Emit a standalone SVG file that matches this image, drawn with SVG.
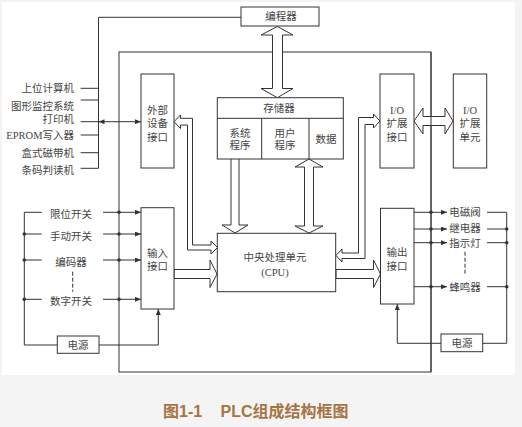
<svg xmlns="http://www.w3.org/2000/svg" width="522" height="427" viewBox="0 0 522 427">
<defs>
<style>
.ln{fill:none;stroke:#333;stroke-width:1}
.bx{fill:#fff;stroke:#333;stroke-width:1}
.pipe{fill:#fff;stroke:#333;stroke-width:1;stroke-linejoin:miter}
.dash{fill:none;stroke:#333;stroke-width:1;stroke-dasharray:4,2}
.t{font-family:"Liberation Serif","Noto Sans CJK SC",serif;font-size:10.5px;fill:#444;text-anchor:middle}
.tr{font-family:"Liberation Serif","Noto Sans CJK SC",serif;font-size:10.5px;fill:#444;text-anchor:end}
.cap{font-family:"Liberation Sans","Noto Sans CJK SC",sans-serif;font-size:16px;font-weight:bold;fill:#a57443}
</style>
<marker id="ah" viewBox="0 0 6 5" refX="6" refY="2.5" markerWidth="6" markerHeight="5" markerUnits="userSpaceOnUse" orient="auto-start-reverse">
<path d="M0,0 L6,2.5 L0,5 z" fill="#333"/>
</marker>
</defs>
<rect x="0" y="0" width="522" height="427" fill="#f4f4f4"/>
<rect x="2" y="2" width="513" height="373" fill="#fff"/>

<g id="connectors">
<!-- outer PLC frame -->
<rect x="119" y="52" width="312" height="320" class="ln"/>
<!-- programmer line to left bus -->
<polyline points="241,17.3 98.5,17.3 98.5,168.3" class="ln"/>
<line x1="80.7" y1="88.3" x2="98.5" y2="88.3" class="ln"/>
<line x1="80.7" y1="100" x2="98.5" y2="100" class="ln"/>
<line x1="80.7" y1="121.7" x2="98.5" y2="121.7" class="ln"/>
<line x1="98.5" y1="121.7" x2="141" y2="121.7" class="ln" marker-start="url(#ah)" marker-end="url(#ah)"/>
<line x1="80.7" y1="135" x2="98.5" y2="135" class="ln"/>
<line x1="80.7" y1="152.7" x2="98.5" y2="152.7" class="ln"/>
<line x1="80.7" y1="168.3" x2="98.5" y2="168.3" class="ln"/>

<!-- programmer <-> memory -->
<polygon points="277.3,26.5 293,35 282.5,35 282.5,88.5 293,88.5 277.3,97.7 261,88.5 272.5,88.5 272.5,35 261,35" class="pipe"/>
<!-- external device interface <-> CPU -->
<polygon points="174,121.7 180.5,115 180.5,118.3 192.5,118.3 192.5,245 211,245 211,241 217.5,247.5 211,254 211,250 187.5,250 187.5,125 180.5,125 180.5,128.5" class="pipe"/>
<!-- CPU <-> I/O extension interface -->
<polygon points="336,255.5 342,249 342,253 358.5,253 358.5,117.5 373.5,117.5 373.5,114 380,121 373.5,128 373.5,124.5 365,124.5 365,258.5 342,258.5 342,262" class="pipe"/>
<!-- I/O interface <-> I/O unit -->
<polygon points="414,121 423,108 423,116.5 445,116.5 445,108 453,121 445,134 445,125.5 423,125.5 423,134" class="pipe"/>
<line x1="431" y1="52" x2="431" y2="372" class="ln"/>
<!-- system program -> CPU -->
<polyline points="231,159 231,225 222,225 235,233 248,225 239,225 239,159" class="pipe"/>
<!-- data <-> CPU -->
<polygon points="309,159 323,167 313.5,167 313.5,226 323,226 309,233 295,226 304.5,226 304.5,167 295,167" class="pipe"/>
<!-- input -> CPU -->
<polygon points="174,269.5 210,269.5 210,260 217,274 210,287.5 210,278.5 174,278.5" class="pipe"/>
<!-- CPU -> output -->
<polygon points="336,269.5 373.5,269.5 373.5,260 380.5,274 373.5,287.5 373.5,278.5 336,278.5" class="pipe"/>

<!-- input side -->
<polyline points="41.7,212.3 24.3,212.3 24.3,345 57,345" class="ln"/>
<line x1="24.3" y1="234" x2="41.7" y2="234" class="ln"/>
<line x1="24.3" y1="260" x2="41.7" y2="260" class="ln"/>
<line x1="24.3" y1="299.3" x2="41.7" y2="299.3" class="ln"/>
<circle cx="24.3" cy="234" r="1.8" fill="#333"/>
<circle cx="24.3" cy="260" r="1.8" fill="#333"/>
<circle cx="24.3" cy="299.3" r="1.8" fill="#333"/>
<line x1="103" y1="212.3" x2="141" y2="212.3" class="ln" marker-end="url(#ah)"/>
<line x1="103" y1="234" x2="141" y2="234" class="ln" marker-end="url(#ah)"/>
<line x1="103" y1="260" x2="141" y2="260" class="ln" marker-end="url(#ah)"/>
<line x1="103" y1="299.3" x2="141" y2="299.3" class="ln" marker-end="url(#ah)"/>
<circle cx="119" cy="212.3" r="1.8" fill="#333"/>
<circle cx="119" cy="234" r="1.8" fill="#333"/>
<circle cx="119" cy="260" r="1.8" fill="#333"/>
<circle cx="119" cy="299.3" r="1.8" fill="#333"/>
<line x1="72.7" y1="271.7" x2="72.7" y2="291.7" class="dash"/>
<polyline points="99,345 158.3,345 158.3,309" class="ln" marker-end="url(#ah)"/>

<!-- output side -->
<line x1="414" y1="212.3" x2="447" y2="212.3" class="ln" marker-end="url(#ah)"/>
<line x1="414" y1="229" x2="447" y2="229" class="ln" marker-end="url(#ah)"/>
<line x1="414" y1="242.7" x2="447" y2="242.7" class="ln" marker-end="url(#ah)"/>
<line x1="414" y1="286.7" x2="447" y2="286.7" class="ln" marker-end="url(#ah)"/>
<circle cx="431" cy="212.3" r="1.8" fill="#333"/>
<circle cx="431" cy="229" r="1.8" fill="#333"/>
<circle cx="431" cy="242.7" r="1.8" fill="#333"/>
<circle cx="431" cy="286.7" r="1.8" fill="#333"/>
<line x1="465" y1="251.7" x2="465" y2="275" class="dash"/>
<polyline points="487,212.3 506.7,212.3 506.7,343.3 483,343.3" class="ln"/>
<line x1="487" y1="229" x2="506.7" y2="229" class="ln"/>
<line x1="487" y1="242.7" x2="506.7" y2="242.7" class="ln"/>
<line x1="487" y1="286.7" x2="506.7" y2="286.7" class="ln"/>
<circle cx="506.7" cy="229" r="1.8" fill="#333"/>
<circle cx="506.7" cy="242.7" r="1.8" fill="#333"/>
<circle cx="506.7" cy="286.7" r="1.8" fill="#333"/>
<polyline points="441,343.3 397.3,343.3 397.3,304" class="ln" marker-end="url(#ah)"/>
</g>

<g id="programmer">
<rect x="241" y="7" width="78" height="19" class="bx"/>
<text x="281" y="20" class="t">编程器</text>
</g>

<g id="ext-interface">
<rect x="141" y="74" width="33" height="94" class="bx"/>
<text x="157.5" y="114" class="t">外部</text>
<text x="157.5" y="127.3" class="t">设备</text>
<text x="157.5" y="140.7" class="t">接口</text>
</g>

<g id="memory">
<rect x="217.3" y="97.7" width="126" height="61.3" class="bx"/>
<line x1="217.3" y1="118.3" x2="343.3" y2="118.3" class="ln"/>
<line x1="261.7" y1="118.3" x2="261.7" y2="159" class="ln"/>
<line x1="309" y1="118.3" x2="309" y2="159" class="ln"/>
<text x="279" y="112" class="t">存储器</text>
<text x="240" y="137" class="t">系统</text>
<text x="240" y="149" class="t">程序</text>
<text x="285" y="137" class="t">用户</text>
<text x="285" y="149" class="t">程序</text>
<text x="326" y="143" class="t">数据</text>
</g>

<g id="io-ext-interface">
<rect x="380" y="74" width="34" height="94" class="bx"/>
<text x="397" y="114" class="t">I/O</text>
<text x="397" y="127.3" class="t">扩展</text>
<text x="397" y="140.7" class="t">接口</text>
</g>

<g id="io-ext-unit">
<rect x="453.3" y="74" width="33.4" height="94" class="bx"/>
<text x="470" y="114" class="t">I/O</text>
<text x="470" y="127.3" class="t">扩展</text>
<text x="470" y="140.7" class="t">单元</text>
</g>

<g id="cpu">
<rect x="217.3" y="233.3" width="118.4" height="58.4" class="bx"/>
<text x="275" y="260.5" class="t">中央处理单元</text>
<text x="275" y="275.5" class="t">(CPU)</text>
</g>

<g id="input-interface">
<rect x="141" y="207.7" width="33" height="101.3" class="bx"/>
<text x="157.5" y="256.5" class="t">输入</text>
<text x="157.5" y="270" class="t">接口</text>
</g>

<g id="output-interface">
<rect x="380.5" y="208.3" width="33.5" height="95.7" class="bx"/>
<text x="397" y="255.5" class="t">输出</text>
<text x="397" y="270" class="t">接口</text>
</g>

<g id="power-left">
<rect x="57.3" y="336" width="41.7" height="17.3" class="bx"/>
<text x="78" y="349" class="t">电源</text>
</g>

<g id="power-right">
<rect x="441" y="334" width="41.7" height="17.7" class="bx"/>
<text x="462" y="347" class="t">电源</text>
</g>

<g id="external-devices">
<text x="74" y="92.3" class="tr">上位计算机</text>
<text x="74" y="110" class="tr">图形监控系统</text>
<text x="74" y="123.3" class="tr">打印机</text>
<text x="74" y="139.3" class="tr">EPROM写入器</text>
<text x="74" y="157.3" class="tr">盒式磁带机</text>
<text x="74" y="174" class="tr">条码判读机</text>
</g>

<g id="input-devices">
<text x="71" y="218" class="t">限位开关</text>
<text x="71" y="239.7" class="t">手动开关</text>
<text x="71" y="265.7" class="t">编码器</text>
<text x="71" y="305" class="t">数字开关</text>
</g>

<g id="output-devices">
<text x="465" y="216.3" class="t">电磁阀</text>
<text x="465" y="232.3" class="t">继电器</text>
<text x="465" y="247.3" class="t">指示灯</text>
<text x="465" y="290.7" class="t">蜂鸣器</text>
</g>

<g id="caption">
<text x="163" y="417" class="cap">图1-1</text>
<text x="220.5" y="417" class="cap">PLC组成结构框图</text>
</g>
</svg>
